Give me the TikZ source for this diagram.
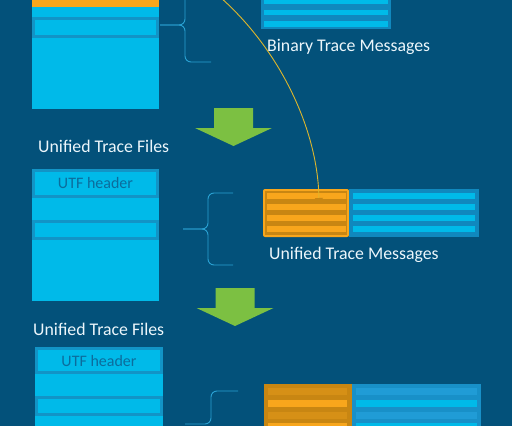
\documentclass[tikz,border=0pt]{standalone}
\usepackage{fontspec}
\setmainfont{Carlito}
\usepackage{tikz}
\usetikzlibrary{arrows.meta}
\definecolor{bgblue}{RGB}{3,81,122}
\definecolor{cyanfill}{RGB}{0,186,233}
\definecolor{edgeblue}{RGB}{18,148,198}
\definecolor{frameblue}{RGB}{16,136,190}
\definecolor{dimblue}{RGB}{24,144,200}
\definecolor{dimstripe}{RGB}{32,156,214}
\definecolor{orangefill}{RGB}{248,166,28}
\definecolor{orangedark}{RGB}{200,134,18}
\definecolor{orangemid}{RGB}{214,144,22}
\definecolor{arrowgreen}{RGB}{124,192,66}
\definecolor{bracecol}{RGB}{42,162,212}
\definecolor{flowcol}{RGB}{222,182,44}
\definecolor{captext}{RGB}{236,246,251}
\definecolor{hdrtext}{RGB}{12,108,156}
\tikzset{%
	filebox/.style = { fill=cyanfill, inner sep=0pt },
	recbox/.style = { draw=edgeblue, line width=3pt, fill=cyanfill, inner sep=0pt },
	msgbox/.style = { fill=frameblue, inner sep=0pt },
	orangebox/.style = { fill=orangefill, rounded corners=2pt, inner sep=0pt },
	bracel/.style = { draw=bracecol, line width=0.9pt, rounded corners=6pt },
	caption/.style = { anchor=base west, inner sep=0pt, text=captext, font=\fontsize{17.8}{20}\selectfont },
	hdrlabel/.style = { text=hdrtext, font=\fontsize{16}{18}\selectfont },
	flowline/.style = { draw=flowcol, line width=0.9pt }
}
\begin{document}
\begin{tikzpicture}[x=1pt, y=-1pt]
	% page and background
	\useasboundingbox (0,0) rectangle (512,426);
	\clip (0,0) rectangle (512,426);
	\fill[bgblue] (0,0) rectangle (512,426);
	% first file (cut off at top)
	\node[filebox, minimum width=127pt, minimum height=139pt] (file1) at (95.5,39.5) {};
	\fill[orangefill] (32,-30) rectangle (159,7);
	\node[recbox, minimum width=124pt, minimum height=18pt] (rec1) at (95.5,27.5) {};
	% binary messages
	\node[msgbox, minimum width=130pt, minimum height=46pt] (binmsg) at (326,6) {};
	\foreach \sy in {-13.5,-2,9.5,21}
		\fill[cyanfill] (264,\sy) rectangle (388,\sy+5.5);
	\node[caption] (binlbl) at (267,51.5) {Binary Trace Messages};
	% brace 1
	\draw[bracel] (211,-12) -| (185,25) -- (160,25);
	\draw[bracel] (211,62) -| (185,25) -- (160,25);
	% green arrows
	\foreach \ax/\ay in {233.5/108, 235/288}
		\fill[arrowgreen] (\ax-19.5,\ay) -- ++(39,0) -- ++(0,20) -- ++(19,0)
			-- (\ax,\ay+38) -- (\ax-38.5,\ay+20) -- ++(19,0) -- cycle;
	% second file
	\node[caption] (utflbl1) at (38,152.3) {Unified Trace Files};
	\node[filebox, minimum width=127pt, minimum height=132pt] (file2) at (95.5,235) {};
	\node[recbox, hdrlabel, minimum width=124pt, minimum height=26pt] (hdr2) at (95.5,183.5) {UTF header};
	\node[recbox, minimum width=124pt, minimum height=17pt] (rec2) at (95.5,230) {};
	% brace 2
	\draw[bracel] (233,193) -| (208,229) -- (183,229);
	\draw[bracel] (233,265) -| (208,229) -- (183,229);
	% unified messages
	\node[orangebox, minimum width=86pt, minimum height=48pt] (utm1o) at (306,213) {};
	\fill[orangedark] (265,191) rectangle (347,235);
	\foreach \sy in {193,204,215,226}
		\fill[orangefill] (267,\sy) rectangle (346,\sy+6);
	\node[msgbox, minimum width=130pt, minimum height=48pt] (utm1b) at (414,213) {};
	\foreach \sy in {193,204,215,226}
		\fill[cyanfill] (353,\sy) rectangle (475,\sy+6);
	\node[caption] (utmlbl1) at (269,259.3) {Unified Trace Messages};
	% flow from binary to unified
	\coordinate (src) at (220,-3);
	\coordinate (dst) at (319,204);
	\draw[flowline, -{Triangle[width=8pt,length=6pt,color=orangedark]}] (src) .. controls (280,50) and (318,130) .. (dst);
	% third file
	\node[caption] (utflbl2) at (33,335.7) {Unified Trace Files};
	\node[filebox, minimum width=128pt, minimum height=113pt] (file3) at (99,403.5) {};
	\node[recbox, hdrlabel, minimum width=125pt, minimum height=24pt] (hdr3) at (99,360.5) {UTF header};
	\node[recbox, minimum width=125pt, minimum height=17pt] (rec3) at (99,406) {};
	% brace 3
	\draw[bracel] (238,391) -| (211,424) -- (185,424);
	% second unified messages (dimmed)
	\node[fill=orangedark, inner sep=0pt, minimum width=88pt, minimum height=76pt] (utm2o) at (308,422) {};
	\node[fill=dimblue, inner sep=0pt, minimum width=129pt, minimum height=76pt] (utm2b) at (416.5,422) {};
	\foreach \sy in {388,411.5}{
		\fill[orangemid] (268,\sy) rectangle (347,\sy+7);
		\fill[dimstripe] (356,\sy) rectangle (477,\sy+7);
	}
	\foreach \sy in {400,423}{
		\fill[orangefill] (268,\sy) rectangle (347,\sy+6.5);
		\fill[cyanfill] (356,\sy) rectangle (477,\sy+6.5);
	}
\end{tikzpicture}
\end{document}
